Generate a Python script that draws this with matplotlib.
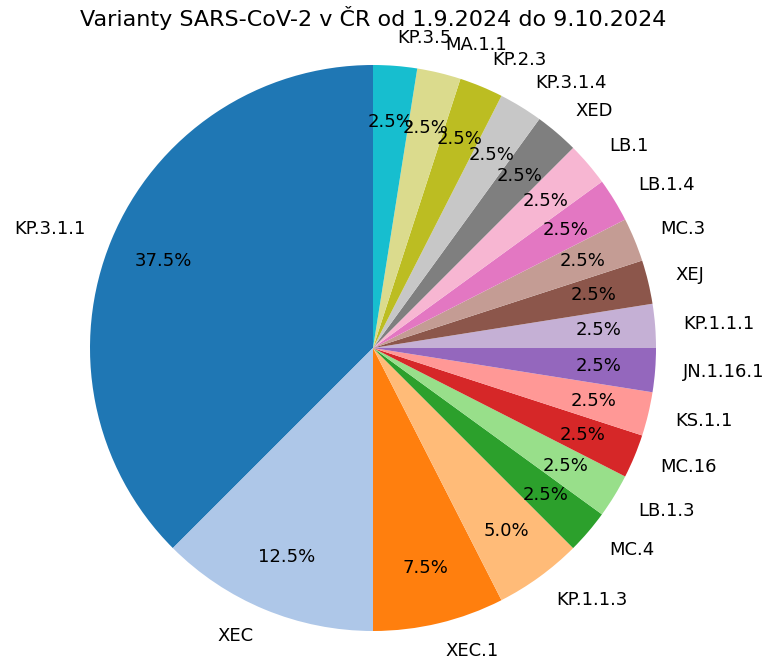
import matplotlib
matplotlib.use('Agg')
import matplotlib.pyplot as plt

# Variant counts (40 samples in total)
variants = ['KP.3.1.1', 'XEC', 'XEC.1', 'KP.1.1.3', 'MC.4', 'LB.1.3', 'MC.16',
            'KS.1.1', 'JN.1.16.1', 'KP.1.1.1', 'XEJ', 'MC.3', 'LB.1.4', 'LB.1',
            'XED', 'KP.3.1.4', 'KP.2.3', 'MA.1.1', 'KP.3.5']
counts = [15, 5, 3, 2, 1, 1, 1, 1, 1, 1, 1, 1, 1, 1, 1, 1, 1, 1, 1]

W, H = 769, 658
fig = plt.figure(figsize=(W / 100, H / 100), dpi=100)

# pie centre at (373, 348) px, radius 283 px
r_px = 283
size = 2.5 * r_px
cx, cy = 373, H - 348
ax = fig.add_axes([(cx - size / 2) / W, (cy - size / 2) / H, size / W, size / H])

colors = plt.get_cmap('tab20').colors
colors = [colors[i % 20] for i in range(len(variants))]

ax.pie(counts, labels=variants, colors=colors, autopct='%1.1f%%',
       startangle=90, pctdistance=0.8, labeldistance=1.1,
       textprops={'fontsize': 13})
ax.set_xlim(-1.25, 1.25)
ax.set_ylim(-1.25, 1.25)
ax.set_aspect('equal')

fig.text(373 / W, 1 - 18 / H, 'Varianty SARS-CoV-2 v ČR od 1.9.2024 do 9.10.2024',
         ha='center', va='center', fontsize=16)

plt.savefig('out.png', dpi=100)
plt.close()
